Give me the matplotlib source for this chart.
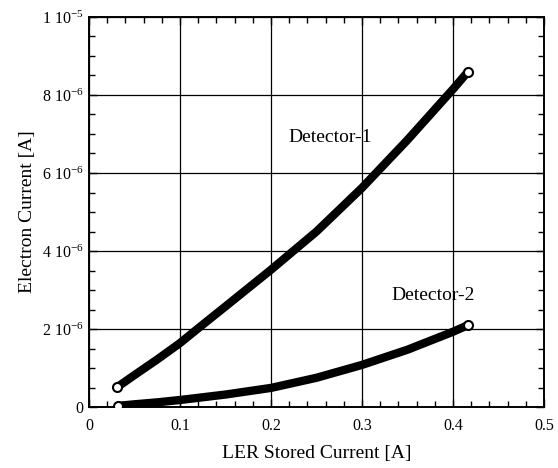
import numpy as np
import matplotlib
matplotlib.use('Agg')
import matplotlib.pyplot as plt
from matplotlib.ticker import MultipleLocator

plt.rcParams['font.family'] = ['Liberation Serif', 'DejaVu Serif']
plt.rcParams['mathtext.fontset'] = 'custom'
plt.rcParams['mathtext.rm'] = 'Liberation Serif'
plt.rcParams['mathtext.it'] = 'Liberation Serif:italic'

# values (current in A)
ler_current_1 = [0.031, 0.05, 0.075, 0.1, 0.119, 0.15, 0.2, 0.25, 0.3, 0.35, 0.4, 0.4165]
det1_current = [0.51e-6, 0.82e-6, 1.22e-6, 1.64e-6, 2.0e-6, 2.58e-6, 3.52e-6, 4.5e-6,
                5.62e-6, 6.85e-6, 8.15e-6, 8.6e-6]

ler_current_2 = [0.032, 0.05, 0.075, 0.1, 0.15, 0.2, 0.25, 0.3, 0.35, 0.4, 0.4165]
det2_current = [0.03e-6, 0.07e-6, 0.12e-6, 0.18e-6, 0.32e-6, 0.49e-6, 0.75e-6,
                1.08e-6, 1.47e-6, 1.93e-6, 2.1e-6]

ytick_vals = [0, 2e-6, 4e-6, 6e-6, 8e-6, 1e-5]
ytick_text = ['0', '2 10$^{-6}$', '4 10$^{-6}$', '6 10$^{-6}$', '8 10$^{-6}$', '1 10$^{-5}$']
xtick_vals = [0, 0.1, 0.2, 0.3, 0.4, 0.5]
xtick_text = ['0', '0.1', '0.2', '0.3', '0.4', '0.5']

fig = plt.figure(figsize=(5.58, 4.68), dpi=100)
ax = fig.add_axes([0.1595, 0.1303, 0.8155, 0.8334])

for xs, ys in [(ler_current_1, det1_current), (ler_current_2, det2_current)]:
    ax.plot(xs, ys, color='black', linewidth=6.0, solid_capstyle='round',
            solid_joinstyle='round', zorder=3)
    ax.plot(xs, ys, linestyle='none', marker='o', markersize=6.5, markerfacecolor='white',
            markeredgecolor='black', markeredgewidth=1.5, markevery=[0, len(xs) - 1], zorder=4)

ax.text(0.265, 6.92e-6, 'Detector-1', fontsize=14, ha='center', va='center')
ax.text(0.378, 2.85e-6, 'Detector-2', fontsize=14, ha='center', va='center')

ax.set_xlim(0, 0.5)
ax.set_ylim(0, 1e-5)
ax.set_xticks(xtick_vals)
ax.set_xticklabels(xtick_text)
ax.set_yticks(ytick_vals)
ax.set_yticklabels(ytick_text)
ax.xaxis.set_minor_locator(MultipleLocator(0.02))
ax.yaxis.set_minor_locator(MultipleLocator(0.5e-6))

ax.grid(True, which='major', color='black', linewidth=0.9)
ax.tick_params(which='both', direction='in', top=True, right=True, labelsize=11.5)
ax.tick_params(which='major', length=6, width=1)
ax.tick_params(which='minor', length=4, width=1)
ax.tick_params(axis='x', pad=8)
ax.tick_params(axis='y', pad=4)
for sp in ax.spines.values():
    sp.set_linewidth(1.4)

ax.set_xlabel('LER Stored Current [A]', fontsize=14, labelpad=8)
ax.set_ylabel('Electron Current [A]', fontsize=14, labelpad=4)

plt.savefig('out.png', dpi=100)
